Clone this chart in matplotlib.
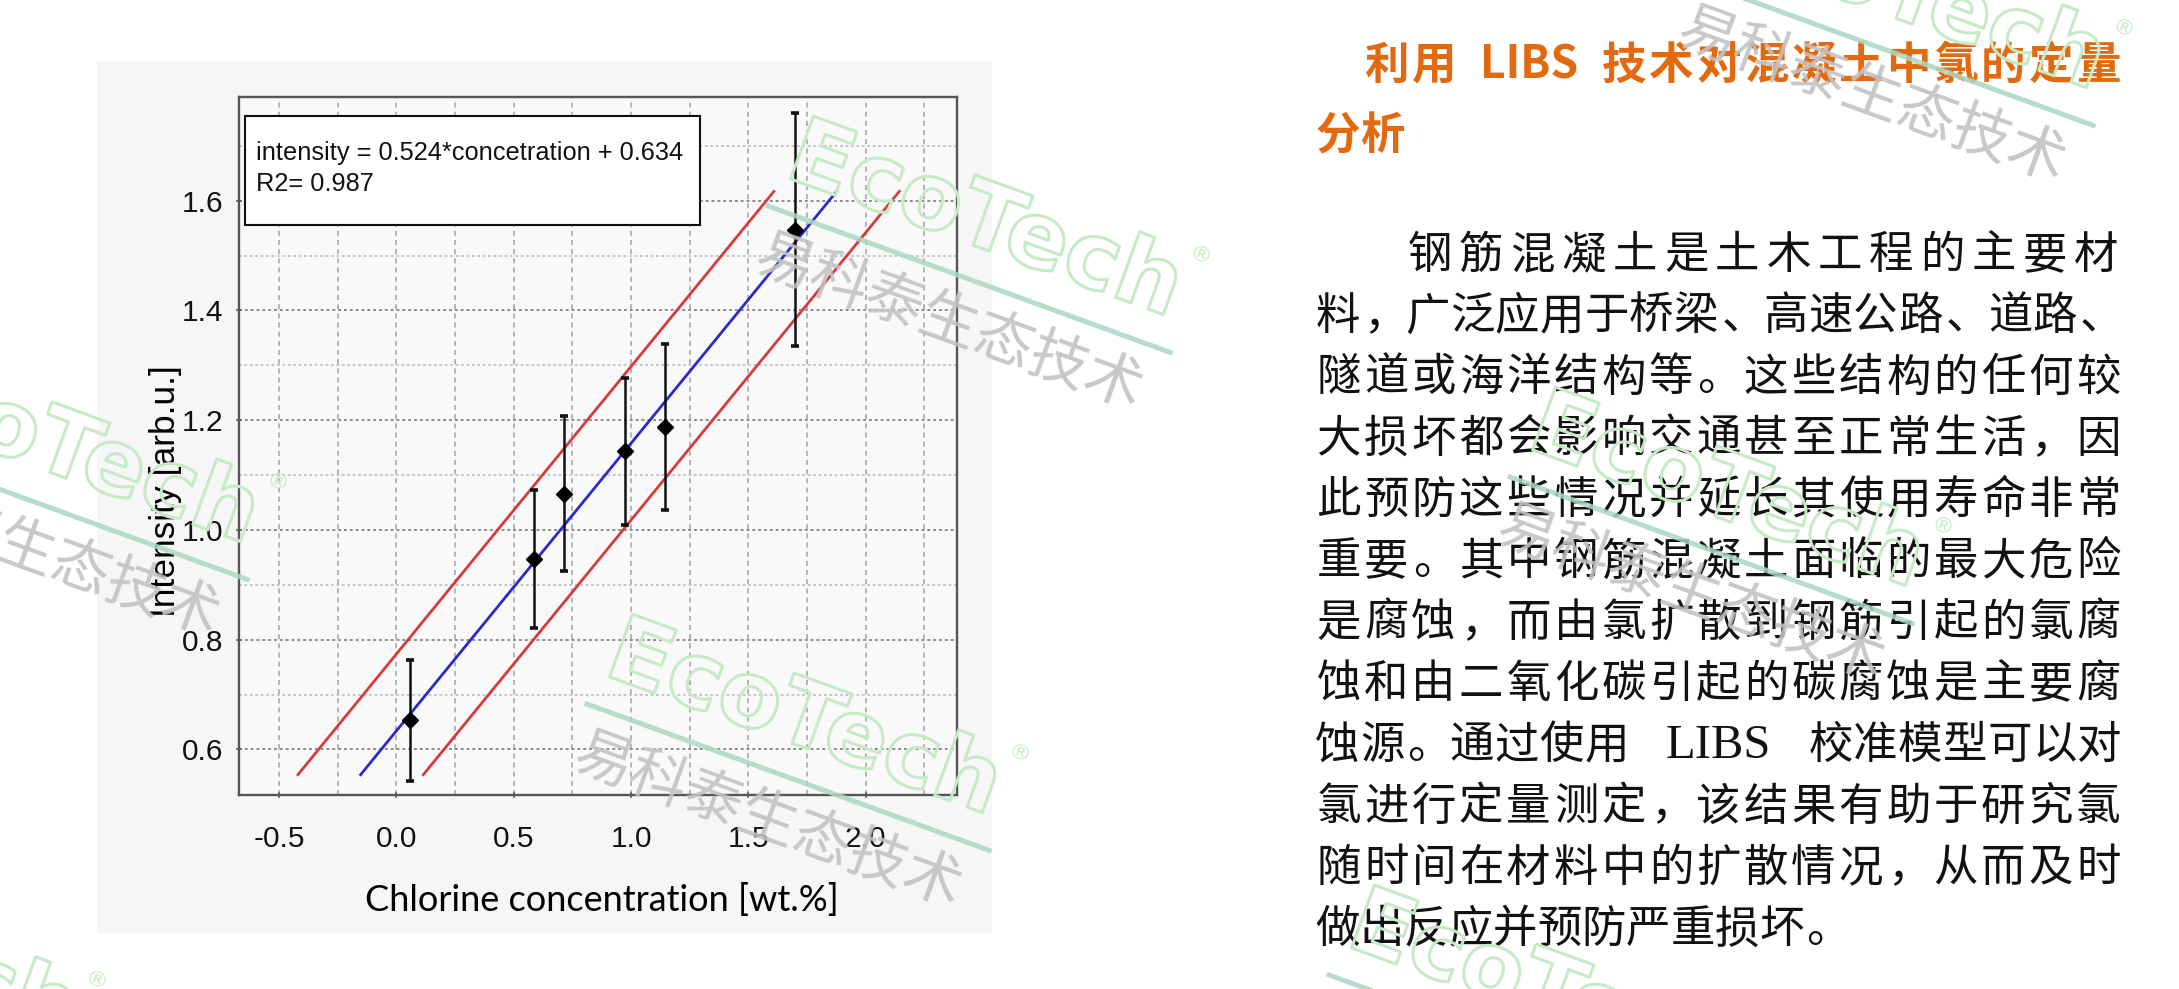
import numpy as np
import matplotlib.pyplot as plt
import matplotlib.patheffects as pe
from matplotlib.patches import Rectangle
from matplotlib.lines import Line2D

W, H = 2179, 989

# calibration points
conc = [0.058, 0.585, 0.715, 0.973, 1.145, 1.700]
intensity = [0.653, 0.947, 1.066, 1.143, 1.188, 1.547]
intensity_err = [0.110, 0.126, 0.141, 0.134, 0.151, 0.212]

# linear fit and limit lines
slope = 0.524
intercept = 0.634
band = 0.14               # vertical offset of the red limit lines
line_y = [0.554, 1.617]   # the three lines run between these intensities

fit_text = ['intensity = 0.524*concetration + 0.634', 'R2= 0.987']
x_ticks = [-0.5, 0.0, 0.5, 1.0, 1.5, 2.0]
x_ticklabels = ['-0.5', '0.0', '0.5', '1.0', '1.5', '2.0']
y_ticks = [0.6, 0.8, 1.0, 1.2, 1.4, 1.6]
y_ticklabels = ['0.6', '0.8', '1.0', '1.2', '1.4', '1.6']

title_lines = ['利用 LIBS 技术对混凝土中氯的定量', '分析']
body_lines = [
    '钢筋混凝土是土木工程的主要材',
    '料，广泛应用于桥梁、高速公路、道路、',
    '隧道或海洋结构等。这些结构的任何较',
    '大损坏都会影响交通甚至正常生活，因',
    '此预防这些情况并延长其使用寿命非常',
    '重要。其中钢筋混凝土面临的最大危险',
    '是腐蚀，而由氯扩散到钢筋引起的氯腐',
    '蚀和由二氧化碳引起的碳腐蚀是主要腐',
    '蚀源。通过使用 LIBS 校准模型可以对',
    '氯进行定量测定，该结果有助于研究氯',
    '随时间在材料中的扩散情况，从而及时',
    '做出反应并预防严重损坏。',
]

# watermark tiles: start point of the green stripe, in pixels from top-left
wm_x = [768, 587, -155, 1691, 1510, -336, 1329]
wm_y = [206, 704, 433, -21, 477, 931, 975]

CJK = 'Noto Sans CJK SC'


def fx(px):
    return px / W


def fy(py):
    return 1 - py / H


fig = plt.figure(figsize=(W / 100, H / 100), dpi=100)
fig.patch.set_facecolor('white')

# light grey panel behind the chart
fig.patches.append(Rectangle((fx(97), fy(933)), (992 - 97) / W, (933 - 61) / H,
                             transform=fig.transFigure, facecolor='#f6f6f6',
                             edgecolor='none', zorder=-5))

ax = fig.add_axes([239 / W, fy(795), (957 - 239) / W, (795 - 97) / H])
ax.set_facecolor('#f9f9f9')
ax.set_xlim(-0.671, 2.389)
ax.set_ylim(0.517, 1.789)

ax.set_xticks(x_ticks)
ax.set_xticklabels(x_ticklabels)
ax.set_yticks(y_ticks)
ax.set_yticklabels(y_ticklabels)
ax.set_xticks(np.arange(-0.5, 2.3, 0.25), minor=True)
ax.set_yticks(np.arange(0.6, 1.75, 0.1), minor=True)
ax.tick_params(which='minor', length=0)
ax.tick_params(which='major', length=5, width=1.2, direction='inout', color='#666666',
               labelsize=21.5, labelcolor='#111111')
ax.tick_params(axis='x', pad=19)
ax.tick_params(axis='y', pad=9)
for lab in ax.get_xticklabels() + ax.get_yticklabels():
    lab.set_family('Liberation Sans')

ax.grid(which='major', axis='y', color='#8c8c8c', linestyle=(0, (1.5, 1.5)), lw=1.4)
ax.grid(which='minor', axis='y', color='#c0c0c0', linestyle=(0, (1.5, 1.5)), lw=1.3)
ax.grid(which='both', axis='x', color='#a8a8a8', linestyle=(0, (3, 2.5)), lw=1.2)
ax.set_axisbelow(True)

for sp in ax.spines.values():
    sp.set_color('#555555')
    sp.set_linewidth(1.7)

# fit line and limit lines
for off, col in [(band, '#d63a3a'), (0.0, '#2a2acc'), (-band, '#d63a3a')]:
    b = intercept + off
    xs = [(y - b) / slope for y in line_y]
    ax.plot(xs, line_y, color=col, lw=2.0, zorder=4)

ax.errorbar(conc, intensity, yerr=intensity_err, fmt='D', color='black', ms=8,
            ecolor='#111111', elinewidth=1.8, capsize=3.2, capthick=2.6, zorder=5)

# equation box
ax.add_patch(Rectangle((0.0084, 0.8166), 0.6336, 0.1562, transform=ax.transAxes,
                       facecolor='white', edgecolor='#111111', lw=1.5, zorder=6))
ax.text(0.0237, 0.9198, fit_text[0], transform=ax.transAxes, ha='left', va='center',
        fontsize=18.3, family='Liberation Sans', color='#111111', zorder=7)
ax.text(0.0237, 0.876, fit_text[1], transform=ax.transAxes, ha='left', va='center',
        fontsize=18.3, family='Liberation Sans', color='#111111', zorder=7)

ax.set_ylabel('Intensity [arb.u.]', fontsize=25.5, family='Liberation Sans', va='center')
ax.yaxis.set_label_coords(-0.103, 0.4355)
ax.set_xlabel('Chlorine concentration [wt.%]', fontsize=26, family='Lato', va='center')
ax.xaxis.set_label_coords(0.505, -0.150)


# text block on the right, laid out character by character so lines are justified
def tokens_of(line, latin_cells):
    toks = []
    word = ''
    for ch in line:
        if ch.isascii() and ch != ' ':
            word += ch
            continue
        if word:
            toks.append((word, latin_cells))
            word = ''
        if ch != ' ':
            toks.append((ch, 1.0))
    if word:
        toks.append((word, latin_cells))
    return toks


def put_line(line, x0, x1, yc, size, latin_cells, latin_family, latin_size=None,
             justify=True, **kw):
    toks = tokens_of(line, latin_cells)
    em = size * 100 / 72
    cells = sum(c for _, c in toks)
    cw = (x1 - x0) / cells if justify else em
    base = yc + 0.38 * em
    x = x0
    for s, c in toks:
        if s in '，、。':
            fig.text(fx(x + 0.06 * cw), fy(base), s, ha='left', va='baseline',
                     fontsize=size, family=CJK, **kw)
        elif s.isascii():
            fig.text(fx(x + c * cw / 2), fy(base), s, ha='center', va='baseline',
                     fontsize=latin_size or size, family=latin_family, **kw)
        else:
            fig.text(fx(x + c * cw / 2), fy(base), s, ha='center', va='baseline',
                     fontsize=size, family=CJK, **kw)
        x += c * cw


title_kw = dict(color='#e2690e', fontweight='bold')
put_line(title_lines[0], 1363, 2122, 62, 32, 3.0, CJK, **title_kw)
put_line(title_lines[1], 1316, 2122, 132, 32, 3.0, CJK, justify=False, **title_kw)

body_left, body_right = 1315, 2122
for i, line in enumerate(body_lines):
    yc = 251 + i * 61.3
    x0 = body_left + (2 * 44.6 if i == 0 else 0)
    last = i == len(body_lines) - 1
    put_line(line, x0, body_right, yc, 32, 4.0, 'Liberation Serif', latin_size=35,
             justify=not last, color='#111111')

# EcoTech watermarks
ang = np.deg2rad(20)
ux, uy = np.cos(ang), np.sin(ang)
for x0, y0 in zip(wm_x, wm_y):
    fig.add_artist(Line2D([fx(x0), fx(x0 + 428 * ux)], [fy(y0), fy(y0 + 428 * uy)],
                          transform=fig.transFigure, color='#a9d8c2', lw=3.6,
                          alpha=0.85, zorder=10))
    fig.text(fx(x0 + 217), fy(y0 + 16), 'EcoTech', rotation=-20, rotation_mode='anchor',
             ha='center', va='center', fontsize=66, fontweight='bold',
             family='DejaVu Sans', color='none', zorder=10,
             path_effects=[pe.Stroke(linewidth=2.2, foreground='#c6eac6')])
    fig.text(fx(x0 + 432), fy(y0 + 50), '®', rotation=-20, rotation_mode='anchor',
             ha='center', va='center', fontsize=16, family='DejaVu Sans',
             color='#c6eac6', zorder=10)
    fig.text(fx(x0 + 181), fy(y0 + 117), '易科泰生态技术', rotation=-20,
             rotation_mode='anchor', ha='center', va='center', fontsize=42,
             fontweight='medium', family=CJK, color='#c2c2c2', alpha=0.9, zorder=10)

fig.savefig('out.png', dpi=100)
